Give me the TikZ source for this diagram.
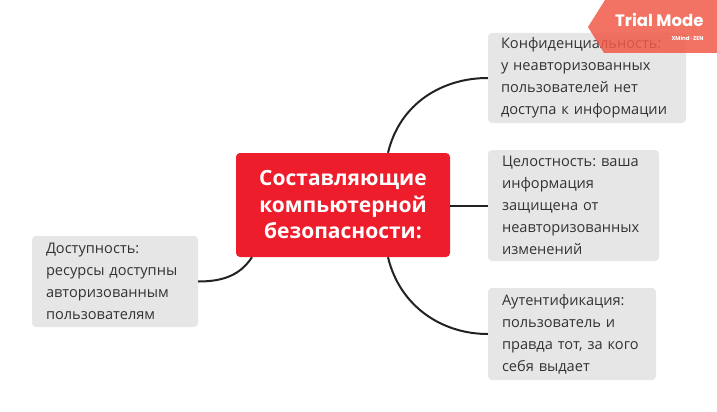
\documentclass[tikz,border=0pt]{standalone}
\usepackage{fontspec}
\setmainfont{Open Sans}
\newfontfamily\badgefont{Poppins}
\usetikzlibrary{calc}
\frenchspacing
\definecolor{boxgray}{HTML}{E6E6E6}
\definecolor{txtgray}{HTML}{333333}
\definecolor{mainred}{HTML}{EE1D2B}
\definecolor{badge}{HTML}{F05A48}
\definecolor{linedark}{HTML}{222222}
\tikzset{
  x=1pt, y=-1pt,
  subbox/.style={fill=boxgray, rounded corners=4pt, inner xsep=14pt, inner ysep=0pt,
    align=left, text=txtgray, font=\fontsize{14.6}{22}\selectfont, anchor=center},
  mainbox/.style={fill=mainred, rounded corners=4pt, align=center, text=white,
    font=\fontsize{21}{26.5}\selectfont\bfseries, minimum width=214pt, minimum height=104pt},
  conn/.style={draw=linedark, line width=2pt}
}
\begin{document}
\begin{tikzpicture}
\useasboundingbox (0,0) rectangle (717,412);
\node[mainbox] (c) at (343,205) {Составляющие\\компьютерной\\безопасности:};
\node[subbox, inner xsep=13pt, text width=172pt, minimum height=90pt] (t) at (587,78)
  {Конфиденциальность:\\у неавторизованных\\пользователей нет\\доступа к информации};
\node[subbox, text width=143pt, minimum height=111pt] (m) at (573.5,205.5)
  {Целостность: ваша\\информация\\защищена от\\неавторизованных\\изменений};
\node[subbox, text width=140pt, minimum height=92pt] (b) at (572,334)
  {Аутентификация:\\пользователь и\\правда тот, за кого\\себя выдает};
\node[subbox, text width=138pt, minimum height=91pt] (l) at (115,281.5)
  {Доступность:\\ресурсы доступны\\авторизованным\\пользователям};
\coordinate (ct) at ([xshift=45pt]c.north);
\coordinate (cb) at ([xshift=45pt]c.south);
\coordinate (cl) at ([xshift=-91pt]c.south);
\draw[conn] (ct) .. controls ($(ct)+(12,-50)$) and ($(t.west)+(-45,0)$) .. (t.west);
\draw[conn] (c.east |- m.west) -- (m.west);
\draw[conn] (cb) .. controls ($(cb)+(12,50)$) and ($(b.west)+(-45,0)$) .. (b.west);
\draw[conn] (cl) .. controls ($(cl)+(-12,18)$) and ($(l.east)+(25,0)$) .. (l.east);
% trial badge
\fill[badge, fill opacity=0.85] (605,0) -- (717,0) -- (717,53) -- (604,53) -- (588,27) -- cycle;
\node[text=white, font=\badgefont\fontsize{16.5}{18}\selectfont\bfseries, anchor=east] (tm) at (707,20) {Trial Mode};
\node[text=white, font=\badgefont\fontsize{5.5}{6}\selectfont\bfseries, anchor=east] (xz) at (707,38) {XMind\,·\,ZEN};
\end{tikzpicture}
\end{document}
